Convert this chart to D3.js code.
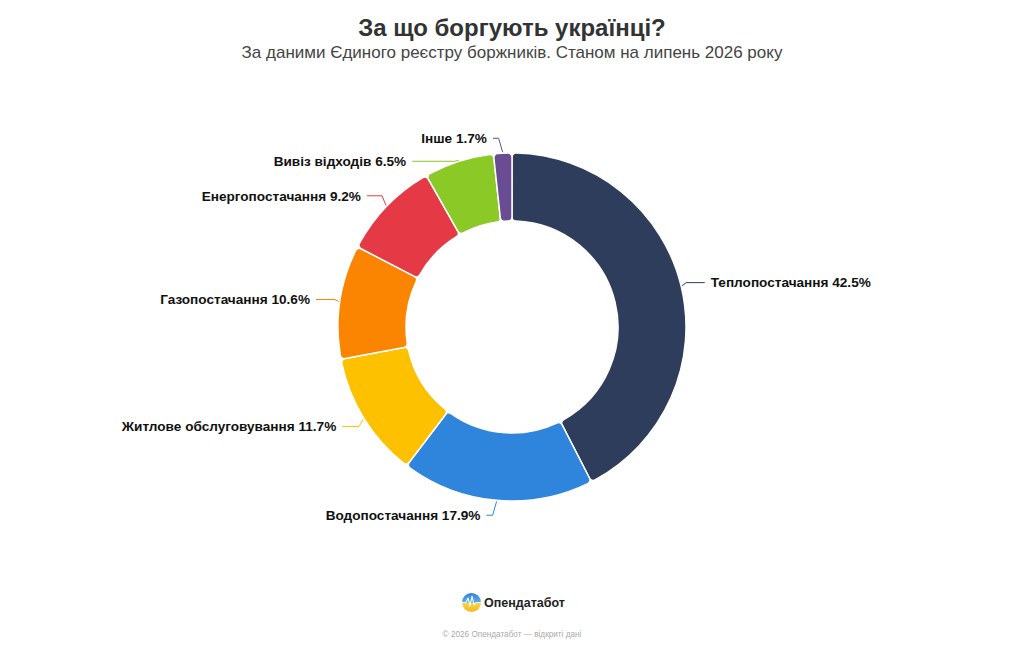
<!DOCTYPE html>
<html>
<head>
<meta charset="utf-8">
<script src="https://cdn.jsdelivr.net/npm/d3@7/dist/d3.min.js"></script>
<style>
  html, body { margin: 0; padding: 0; background: #fff; }
  svg { display: block; font-family: "Liberation Sans", Arial, Helvetica, sans-serif; }
</style>
</head>
<body>
<svg id="chart" width="1024" height="649"></svg>
<script>
// ---- Data ----
const categories = ["Теплопостачання", "Водопостачання", "Житлове обслуговування", "Газопостачання", "Енергопостачання", "Вивіз відходів", "Інше"];
const values = [42.5, 17.9, 11.7, 10.6, 9.2, 6.5, 1.7];
const colors = ["#2e3d5c", "#2f84dc", "#fdc100", "#fb8500", "#e63946", "#8ac926", "#6a4c93"];
const titleText = "За що боргують українці?";
const subtitleText = "За даними Єдиного реєстру боржників. Станом на липень 2026 року";
const brandText = "Опендатабот";
const footerText = "© 2026 Опендатабот — відкриті дані";

// ---- Layout ----
const W = 1024, H = 649;
const cx = 512, cy = 327, R = 174, r0 = 106;
const labelDist = 15;      // distance of labels outside the pie
const labelGap = 23;       // minimal vertical spacing of labels
const svg = d3.select("#chart");

svg.append("text").attr("x", W / 2).attr("y", 36).attr("text-anchor", "middle")
  .attr("font-size", 24).attr("font-weight", "bold").attr("fill", "#333").text(titleText);
svg.append("text").attr("x", W / 2).attr("y", 58).attr("text-anchor", "middle")
  .attr("font-size", 17).attr("fill", "#444").text(subtitleText);

const data = categories.map((c, i) => ({ name: c, value: values[i], color: colors[i] }));
const pie = d3.pie().value(d => d.value).sort(null);
const arcs = pie(data);
const arc = d3.arc().innerRadius(r0).outerRadius(R).cornerRadius(4);

const g = svg.append("g").attr("transform", `translate(${cx},${cy})`);
g.selectAll("path.slice").data(arcs).join("path")
  .attr("class", "slice")
  .attr("d", arc)
  .attr("fill", d => d.data.color)
  .attr("stroke", "#fff").attr("stroke-width", 1.5).attr("stroke-linejoin", "round");

// ---- Label placement ----
const RL = R + labelDist;
const labels = arcs.map(a => {
  const mid = (a.startAngle + a.endAngle) / 2;
  const left = mid > Math.PI;
  return {
    a, mid, left,
    natX: RL * Math.sin(mid),
    natY: -RL * Math.cos(mid),
    edgeX: (R + 1) * Math.sin(mid),
    edgeY: -(R + 1) * Math.cos(mid)
  };
});
// distribute each side top to bottom
[true, false].forEach(side => {
  const items = labels.filter(l => l.left === side).sort((p, q) => p.natY - q.natY);
  let prev = -Infinity;
  items.forEach(l => {
    l.y = Math.max(l.natY, prev + labelGap);
    prev = l.y;
  });
});
labels.forEach(l => {
  let x;
  if (Math.abs(l.y) >= RL - 0.5 || Math.abs(l.y - l.natY) < 0.01 && Math.abs(l.natY) > RL * 0.97) {
    x = l.natX;
  } else {
    const ang = Math.asin(Math.max(-1, Math.min(1, l.y / RL)));
    x = (l.left ? -1 : 1) * Math.cos(ang) * RL;
  }
  l.x = x;
  const sgn = l.left ? -1 : 1;
  l.textX = x + sgn * 15;
  l.connEnd = x + sgn * 9;
  const crookX = l.edgeX + sgn * 4;
  l.path = `M${l.connEnd},${l.y}L${crookX},${l.y}L${l.edgeX},${l.edgeY}`;
});

g.selectAll("path.conn").data(labels).join("path")
  .attr("class", "conn")
  .attr("d", l => l.path)
  .attr("fill", "none")
  .attr("stroke", l => l.a.data.color)
  .attr("stroke-width", 1);

g.selectAll("text.lbl").data(labels).join("text")
  .attr("class", "lbl")
  .attr("x", l => l.textX)
  .attr("y", l => l.y)
  .attr("dy", "0.35em")
  .attr("text-anchor", l => l.left ? "end" : "start")
  .attr("font-size", 13.6).attr("font-weight", "bold").attr("fill", "#111")
  .text(l => `${l.a.data.name} ${d3.format(".1f")(l.a.data.value)}%`);

// ---- Brand / footer ----
const defs = svg.append("defs");
const gradB = defs.append("linearGradient").attr("id", "gb").attr("x1", 0).attr("y1", 0).attr("x2", 0).attr("y2", 1);
gradB.append("stop").attr("offset", "0%").attr("stop-color", "#2f7fd8");
gradB.append("stop").attr("offset", "50%").attr("stop-color", "#5ab0f0");
gradB.append("stop").attr("offset", "50%").attr("stop-color", "#f9d64a");
gradB.append("stop").attr("offset", "100%").attr("stop-color", "#f4b81c");
defs.append("clipPath").attr("id", "logoClip").append("circle").attr("cx", 471.5).attr("cy", 602.5).attr("r", 9.5);
const logo = svg.append("g");
logo.append("circle").attr("cx", 471.5).attr("cy", 602.5).attr("r", 9.5).attr("fill", "url(#gb)");
logo.append("path").attr("clip-path", "url(#logoClip)")
  .attr("d", "M460,602.5 L466,602.5 L468,598 L470,606 L472,596 L474,605 L476,602.5 L483,602.5")
  .attr("fill", "none").attr("stroke", "#fff").attr("stroke-width", 1.1).attr("stroke-linejoin", "round");
svg.append("text").attr("x", 484).attr("y", 607).attr("font-size", 12.5).attr("font-weight", "bold")
  .attr("fill", "#222").text(brandText);
svg.append("text").attr("x", W / 2).attr("y", 637).attr("text-anchor", "middle")
  .attr("font-size", 8.2).attr("fill", "#aaa").text(footerText);
</script>
</body>
</html>
